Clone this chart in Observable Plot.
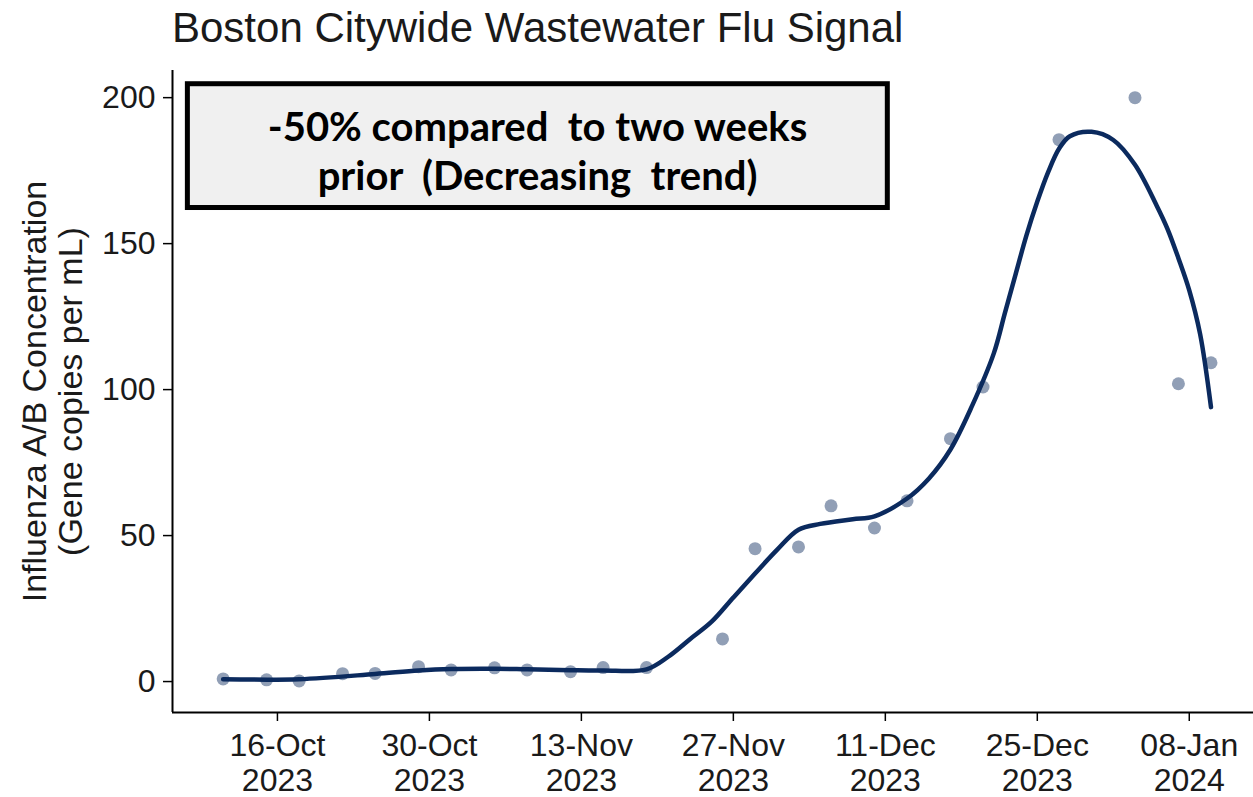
<!DOCTYPE html>
<html><head><meta charset="utf-8">
<script src="https://cdn.jsdelivr.net/npm/d3@7"></script>
<script src="https://cdn.jsdelivr.net/npm/@observablehq/plot@0.6"></script>
<style>
body{margin:0;background:#fff;}
#title{position:relative;height:60px;width:1253px;font-family:"Liberation Sans",Arial,sans-serif;}
#title span{position:absolute;left:172px;top:7px;font-size:42px;line-height:42px;color:#1a1a1a;white-space:nowrap;}
#chart svg{display:block;}
</style></head><body>
<div id="title"><span>Boston Citywide Wastewater Flu Signal</span></div>
<div id="chart"></div>
<script>
const sampleDates = ["2023-10-11","2023-10-15","2023-10-18","2023-10-22","2023-10-25","2023-10-29","2023-11-01","2023-11-05","2023-11-08","2023-11-12","2023-11-15","2023-11-19","2023-11-26","2023-11-29","2023-12-03","2023-12-06","2023-12-10","2023-12-13","2023-12-17","2023-12-20","2023-12-27","2024-01-03","2024-01-07","2024-01-10"];
const sampleValues = [0.9,0.6,0.2,2.7,2.8,5.1,4.0,4.7,4.0,3.4,4.8,4.8,14.6,45.5,46.1,60.2,52.6,61.9,83.2,100.9,185.6,200.0,102.0,109.2];

const smoothDates = ["2023-10-11","2023-10-18","2023-10-25","2023-10-29","2023-11-01","2023-11-05","2023-11-08","2023-11-12","2023-11-15","2023-11-19","2023-11-21","2023-11-23","2023-11-25","2023-11-27","2023-11-29","2023-12-01","2023-12-03","2023-12-05","2023-12-08","2023-12-10","2023-12-13","2023-12-15","2023-12-17","2023-12-19","2023-12-21","2023-12-22","2023-12-23","2023-12-24","2023-12-25","2023-12-26","2023-12-27","2023-12-28","2023-12-30","2024-01-01","2024-01-03","2024-01-05","2024-01-06","2024-01-07","2024-01-08","2024-01-09","2024-01-10"];
const smoothValues = [0.8,0.8,2.6,3.8,4.3,4.4,4.2,3.9,3.8,4.2,8.5,14.5,20.5,28.8,37.0,45.0,52.0,54.0,55.6,56.6,62.7,69.5,79.5,94.5,112.5,126.0,139.5,152.8,164.4,174.5,182.5,186.8,188.3,185.5,177.0,163.0,155.0,145.0,134.0,119.0,94.0];

const tickDates = ["2023-10-16","2023-10-30","2023-11-13","2023-11-27","2023-12-11","2023-12-25","2024-01-08"];
const tickLabels = ["16-Oct\n2023","30-Oct\n2023","13-Nov\n2023","27-Nov\n2023","11-Dec\n2023","25-Dec\n2023","08-Jan\n2024"];
const yTicks = [0,50,100,150,200];

const xDomain = ["2023-10-06T08:00:00Z","2024-01-13T22:00:00Z"];
const yDomain = [-10.6, 209.3];

const noteX = ["2023-10-07T18:00:00Z","2023-12-11T05:30:00Z"];
const noteY = [162.2, 204.6];
const noteCenter = ["2023-11-08T23:00:00Z", 182.2];
const noteText = "-50% compared  to two weeks\nprior  (Decreasing  trend)";
const yLabel = "Influenza A/B Concentration\n(Gene copies per mL)";

const parse = s => new Date(s.length === 10 ? s + "T00:00:00Z" : s);
const samples = sampleDates.map((d, i) => ({date: parse(d), value: sampleValues[i]}));
const smooth = smoothDates.map((d, i) => ({date: parse(d), value: smoothValues[i]}));
const note = [{x1: parse(noteX[0]), x2: parse(noteX[1]), y1: noteY[0], y2: noteY[1], cx: parse(noteCenter[0]), cy: noteCenter[1], text: noteText}];

const navy = "#0b2a5e";

const plot = Plot.plot({
  width: 1253,
  height: 737,
  marginLeft: 172,
  marginRight: 0,
  marginTop: 10,
  marginBottom: 85,
  style: {fontFamily: "'Liberation Sans', Arial, sans-serif", color: "#1a1a1a", background: "#fff"},
  x: {type: "utc", domain: xDomain.map(parse)},
  y: {domain: yDomain},
  marks: [
    Plot.ruleX([parse(xDomain[0])], {stroke: "#000", strokeWidth: 2}),
    Plot.ruleY([yDomain[0]], {stroke: "#000", strokeWidth: 2}),
    Plot.axisY({ticks: yTicks, tickSize: 9, tickPadding: 8, fontSize: 32, label: null, stroke: "#000", strokeWidth: 1.5}),
    Plot.axisX({ticks: tickDates.map(parse), tickFormat: (d, i) => tickLabels[i], tickSize: 9, tickPadding: 9, fontSize: 32, lineHeight: 1.1, label: null, stroke: "#000", strokeWidth: 1.5}),
    Plot.text([yLabel], {frameAnchor: "left", rotate: -90, dx: -120, textAnchor: "middle", lineAnchor: "middle", fontSize: 34, lineHeight: 1.06, fill: "#1a1a1a"}),
    Plot.line(smooth, {x: "date", y: "value", stroke: navy, strokeWidth: 4.5, curve: "catmull-rom"}),
    Plot.dot(samples, {x: "date", y: "value", r: 6.5, fill: navy, fillOpacity: 0.45, stroke: "none"}),
    Plot.rect(note, {x1: "x1", x2: "x2", y1: "y1", y2: "y2", fill: "#f0f0f0", stroke: "#000", strokeWidth: 5}),
    Plot.text(note, {x: "cx", y: "cy", text: "text", fontSize: 40, fontWeight: "bold", fontFamily: "Lato", lineHeight: 1.22, fill: "#000"})
  ]
});
document.getElementById("chart").appendChild(plot);
</script>
</body></html>
